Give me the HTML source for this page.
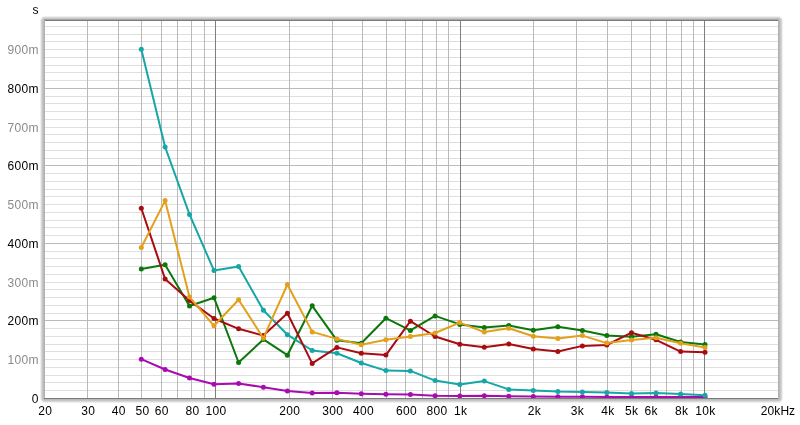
<!DOCTYPE html>
<html><head><meta charset="utf-8"><style>
html,body{margin:0;padding:0;background:#fff;width:800px;height:425px;overflow:hidden}
svg{display:block}
</style></head><body>
<svg width="800" height="425" viewBox="0 0 800 425">
<rect width="800" height="425" fill="#fff"/>
<rect x="40" y="16" width="743" height="387" rx="5" fill="#efefef"/>
<rect x="41" y="17" width="741" height="385" rx="4" fill="#d8d8d8"/>
<rect x="42" y="18" width="739" height="383" rx="3" fill="#c6c6c6"/>
<rect x="43" y="19" width="737" height="381" rx="2" fill="#bababa"/>
<rect x="44" y="20" width="735" height="379" rx="1" fill="#b2b2b2"/>
<g shape-rendering="crispEdges">
<rect x="45" y="21" width="733" height="377" fill="#fff"/>
<rect x="45" y="390" width="733" height="1" fill="#dfdfdf"/>
<rect x="45" y="382" width="733" height="1" fill="#dfdfdf"/>
<rect x="45" y="375" width="733" height="1" fill="#dfdfdf"/>
<rect x="45" y="367" width="733" height="1" fill="#dfdfdf"/>
<rect x="45" y="359" width="733" height="1" fill="#dfdfdf"/>
<rect x="45" y="351" width="733" height="1" fill="#dfdfdf"/>
<rect x="45" y="344" width="733" height="1" fill="#dfdfdf"/>
<rect x="45" y="336" width="733" height="1" fill="#dfdfdf"/>
<rect x="45" y="328" width="733" height="1" fill="#dfdfdf"/>
<rect x="45" y="320" width="733" height="1" fill="#bbbbbb"/>
<rect x="45" y="313" width="733" height="1" fill="#dfdfdf"/>
<rect x="45" y="305" width="733" height="1" fill="#dfdfdf"/>
<rect x="45" y="297" width="733" height="1" fill="#dfdfdf"/>
<rect x="45" y="289" width="733" height="1" fill="#dfdfdf"/>
<rect x="45" y="282" width="733" height="1" fill="#dfdfdf"/>
<rect x="45" y="274" width="733" height="1" fill="#dfdfdf"/>
<rect x="45" y="266" width="733" height="1" fill="#dfdfdf"/>
<rect x="45" y="258" width="733" height="1" fill="#dfdfdf"/>
<rect x="45" y="251" width="733" height="1" fill="#dfdfdf"/>
<rect x="45" y="243" width="733" height="1" fill="#bbbbbb"/>
<rect x="45" y="235" width="733" height="1" fill="#dfdfdf"/>
<rect x="45" y="227" width="733" height="1" fill="#dfdfdf"/>
<rect x="45" y="220" width="733" height="1" fill="#dfdfdf"/>
<rect x="45" y="212" width="733" height="1" fill="#dfdfdf"/>
<rect x="45" y="204" width="733" height="1" fill="#dfdfdf"/>
<rect x="45" y="196" width="733" height="1" fill="#dfdfdf"/>
<rect x="45" y="189" width="733" height="1" fill="#dfdfdf"/>
<rect x="45" y="181" width="733" height="1" fill="#dfdfdf"/>
<rect x="45" y="173" width="733" height="1" fill="#dfdfdf"/>
<rect x="45" y="165" width="733" height="1" fill="#bbbbbb"/>
<rect x="45" y="158" width="733" height="1" fill="#dfdfdf"/>
<rect x="45" y="150" width="733" height="1" fill="#dfdfdf"/>
<rect x="45" y="142" width="733" height="1" fill="#dfdfdf"/>
<rect x="45" y="134" width="733" height="1" fill="#dfdfdf"/>
<rect x="45" y="127" width="733" height="1" fill="#dfdfdf"/>
<rect x="45" y="119" width="733" height="1" fill="#dfdfdf"/>
<rect x="45" y="111" width="733" height="1" fill="#dfdfdf"/>
<rect x="45" y="103" width="733" height="1" fill="#dfdfdf"/>
<rect x="45" y="96" width="733" height="1" fill="#dfdfdf"/>
<rect x="45" y="88" width="733" height="1" fill="#bbbbbb"/>
<rect x="45" y="80" width="733" height="1" fill="#dfdfdf"/>
<rect x="45" y="72" width="733" height="1" fill="#dfdfdf"/>
<rect x="45" y="65" width="733" height="1" fill="#dfdfdf"/>
<rect x="45" y="57" width="733" height="1" fill="#dfdfdf"/>
<rect x="45" y="49" width="733" height="1" fill="#dfdfdf"/>
<rect x="45" y="41" width="733" height="1" fill="#dfdfdf"/>
<rect x="45" y="34" width="733" height="1" fill="#dfdfdf"/>
<rect x="45" y="26" width="733" height="1" fill="#dfdfdf"/>
<rect x="87" y="21" width="1" height="377" fill="#bababa"/>
<rect x="118" y="21" width="1" height="377" fill="#bababa"/>
<rect x="141" y="21" width="1" height="377" fill="#bababa"/>
<rect x="161" y="21" width="1" height="377" fill="#bababa"/>
<rect x="177" y="21" width="1" height="377" fill="#bababa"/>
<rect x="191" y="21" width="1" height="377" fill="#bababa"/>
<rect x="204" y="21" width="1" height="377" fill="#bababa"/>
<rect x="215" y="21" width="1" height="377" fill="#7e7e7e"/>
<rect x="289" y="21" width="1" height="377" fill="#bababa"/>
<rect x="332" y="21" width="1" height="377" fill="#bababa"/>
<rect x="362" y="21" width="1" height="377" fill="#bababa"/>
<rect x="386" y="21" width="1" height="377" fill="#bababa"/>
<rect x="405" y="21" width="1" height="377" fill="#bababa"/>
<rect x="422" y="21" width="1" height="377" fill="#bababa"/>
<rect x="436" y="21" width="1" height="377" fill="#bababa"/>
<rect x="448" y="21" width="1" height="377" fill="#bababa"/>
<rect x="460" y="21" width="1" height="377" fill="#7e7e7e"/>
<rect x="533" y="21" width="1" height="377" fill="#bababa"/>
<rect x="576" y="21" width="1" height="377" fill="#bababa"/>
<rect x="607" y="21" width="1" height="377" fill="#bababa"/>
<rect x="631" y="21" width="1" height="377" fill="#bababa"/>
<rect x="650" y="21" width="1" height="377" fill="#bababa"/>
<rect x="666" y="21" width="1" height="377" fill="#bababa"/>
<rect x="681" y="21" width="1" height="377" fill="#bababa"/>
<rect x="693" y="21" width="1" height="377" fill="#bababa"/>
<rect x="704" y="21" width="1" height="377" fill="#7e7e7e"/>
<rect x="45" y="20" width="733" height="1" fill="#7a7a7a"/>
<rect x="44" y="19" width="735" height="1" fill="#a8a8a8"/>
<rect x="44" y="398" width="734" height="1" fill="#7a7a7a"/>
</g>
<defs><clipPath id="pc"><rect x="45" y="21" width="733" height="377"/></clipPath></defs>
<g clip-path="url(#pc)">
<polyline points="141.3,359.2 165.1,369.5 189.5,378.0 214.0,384.3 238.6,383.6 263.4,387.2 287.4,390.9 312.2,392.9 336.9,392.8 361.3,393.8 385.9,394.3 410.4,394.6 435.1,395.7 459.8,395.9 484.3,395.8 508.8,396.3 533.3,396.5 557.9,396.7 582.4,396.8 606.8,396.9 631.5,396.9 656.0,396.9 680.6,396.9 705.0,397.0" fill="none" stroke="#a80cb0" stroke-width="2" stroke-linejoin="round"/>
<circle cx="141.3" cy="359.2" r="2.5" fill="#a80cb0"/>
<circle cx="165.1" cy="369.5" r="2.5" fill="#a80cb0"/>
<circle cx="189.5" cy="378.0" r="2.5" fill="#a80cb0"/>
<circle cx="214.0" cy="384.3" r="2.5" fill="#a80cb0"/>
<circle cx="238.6" cy="383.6" r="2.5" fill="#a80cb0"/>
<circle cx="263.4" cy="387.2" r="2.5" fill="#a80cb0"/>
<circle cx="287.4" cy="390.9" r="2.5" fill="#a80cb0"/>
<circle cx="312.2" cy="392.9" r="2.5" fill="#a80cb0"/>
<circle cx="336.9" cy="392.8" r="2.5" fill="#a80cb0"/>
<circle cx="361.3" cy="393.8" r="2.5" fill="#a80cb0"/>
<circle cx="385.9" cy="394.3" r="2.5" fill="#a80cb0"/>
<circle cx="410.4" cy="394.6" r="2.5" fill="#a80cb0"/>
<circle cx="435.1" cy="395.7" r="2.5" fill="#a80cb0"/>
<circle cx="459.8" cy="395.9" r="2.5" fill="#a80cb0"/>
<circle cx="484.3" cy="395.8" r="2.5" fill="#a80cb0"/>
<circle cx="508.8" cy="396.3" r="2.5" fill="#a80cb0"/>
<circle cx="533.3" cy="396.5" r="2.5" fill="#a80cb0"/>
<circle cx="557.9" cy="396.7" r="2.5" fill="#a80cb0"/>
<circle cx="582.4" cy="396.8" r="2.5" fill="#a80cb0"/>
<circle cx="606.8" cy="396.9" r="2.5" fill="#a80cb0"/>
<circle cx="631.5" cy="396.9" r="2.5" fill="#a80cb0"/>
<circle cx="656.0" cy="396.9" r="2.5" fill="#a80cb0"/>
<circle cx="680.6" cy="396.9" r="2.5" fill="#a80cb0"/>
<circle cx="705.0" cy="397.0" r="2.5" fill="#a80cb0"/>
<polyline points="141.3,268.9 165.1,264.7 189.5,306.0 214.0,297.7 238.6,362.5 263.4,339.4 287.4,355.2 312.2,305.8 336.9,340.3 361.3,343.2 385.9,318.2 410.4,330.4 435.1,315.9 459.8,324.4 484.3,327.4 508.8,325.6 533.3,330.2 557.9,326.8 582.4,330.4 606.8,335.5 631.5,336.8 656.0,334.3 680.6,342.0 705.0,344.5" fill="none" stroke="#0c780c" stroke-width="2" stroke-linejoin="round"/>
<circle cx="141.3" cy="268.9" r="2.5" fill="#0c780c"/>
<circle cx="165.1" cy="264.7" r="2.5" fill="#0c780c"/>
<circle cx="189.5" cy="306.0" r="2.5" fill="#0c780c"/>
<circle cx="214.0" cy="297.7" r="2.5" fill="#0c780c"/>
<circle cx="238.6" cy="362.5" r="2.5" fill="#0c780c"/>
<circle cx="263.4" cy="339.4" r="2.5" fill="#0c780c"/>
<circle cx="287.4" cy="355.2" r="2.5" fill="#0c780c"/>
<circle cx="312.2" cy="305.8" r="2.5" fill="#0c780c"/>
<circle cx="336.9" cy="340.3" r="2.5" fill="#0c780c"/>
<circle cx="361.3" cy="343.2" r="2.5" fill="#0c780c"/>
<circle cx="385.9" cy="318.2" r="2.5" fill="#0c780c"/>
<circle cx="410.4" cy="330.4" r="2.5" fill="#0c780c"/>
<circle cx="435.1" cy="315.9" r="2.5" fill="#0c780c"/>
<circle cx="459.8" cy="324.4" r="2.5" fill="#0c780c"/>
<circle cx="484.3" cy="327.4" r="2.5" fill="#0c780c"/>
<circle cx="508.8" cy="325.6" r="2.5" fill="#0c780c"/>
<circle cx="533.3" cy="330.2" r="2.5" fill="#0c780c"/>
<circle cx="557.9" cy="326.8" r="2.5" fill="#0c780c"/>
<circle cx="582.4" cy="330.4" r="2.5" fill="#0c780c"/>
<circle cx="606.8" cy="335.5" r="2.5" fill="#0c780c"/>
<circle cx="631.5" cy="336.8" r="2.5" fill="#0c780c"/>
<circle cx="656.0" cy="334.3" r="2.5" fill="#0c780c"/>
<circle cx="680.6" cy="342.0" r="2.5" fill="#0c780c"/>
<circle cx="705.0" cy="344.5" r="2.5" fill="#0c780c"/>
<polyline points="141.3,49.3 165.1,147.0 189.5,214.4 214.0,270.6 238.6,266.5 263.4,310.3 287.4,334.7 312.2,350.5 336.9,353.2 361.3,363.0 385.9,370.6 410.4,370.9 435.1,380.6 459.8,384.4 484.3,381.1 508.8,389.4 533.3,390.5 557.9,391.6 582.4,392.1 606.8,392.5 631.5,393.5 656.0,392.9 680.6,394.1 705.0,395.2" fill="none" stroke="#16a6a6" stroke-width="2" stroke-linejoin="round"/>
<circle cx="141.3" cy="49.3" r="2.5" fill="#16a6a6"/>
<circle cx="165.1" cy="147.0" r="2.5" fill="#16a6a6"/>
<circle cx="189.5" cy="214.4" r="2.5" fill="#16a6a6"/>
<circle cx="214.0" cy="270.6" r="2.5" fill="#16a6a6"/>
<circle cx="238.6" cy="266.5" r="2.5" fill="#16a6a6"/>
<circle cx="263.4" cy="310.3" r="2.5" fill="#16a6a6"/>
<circle cx="287.4" cy="334.7" r="2.5" fill="#16a6a6"/>
<circle cx="312.2" cy="350.5" r="2.5" fill="#16a6a6"/>
<circle cx="336.9" cy="353.2" r="2.5" fill="#16a6a6"/>
<circle cx="361.3" cy="363.0" r="2.5" fill="#16a6a6"/>
<circle cx="385.9" cy="370.6" r="2.5" fill="#16a6a6"/>
<circle cx="410.4" cy="370.9" r="2.5" fill="#16a6a6"/>
<circle cx="435.1" cy="380.6" r="2.5" fill="#16a6a6"/>
<circle cx="459.8" cy="384.4" r="2.5" fill="#16a6a6"/>
<circle cx="484.3" cy="381.1" r="2.5" fill="#16a6a6"/>
<circle cx="508.8" cy="389.4" r="2.5" fill="#16a6a6"/>
<circle cx="533.3" cy="390.5" r="2.5" fill="#16a6a6"/>
<circle cx="557.9" cy="391.6" r="2.5" fill="#16a6a6"/>
<circle cx="582.4" cy="392.1" r="2.5" fill="#16a6a6"/>
<circle cx="606.8" cy="392.5" r="2.5" fill="#16a6a6"/>
<circle cx="631.5" cy="393.5" r="2.5" fill="#16a6a6"/>
<circle cx="656.0" cy="392.9" r="2.5" fill="#16a6a6"/>
<circle cx="680.6" cy="394.1" r="2.5" fill="#16a6a6"/>
<circle cx="705.0" cy="395.2" r="2.5" fill="#16a6a6"/>
<polyline points="141.3,208.2 165.1,279.0 189.5,300.6 214.0,318.5 238.6,328.8 263.4,335.6 287.4,313.3 312.2,363.4 336.9,347.4 361.3,353.2 385.9,355.1 410.4,321.2 435.1,336.5 459.8,344.3 484.3,347.3 508.8,343.9 533.3,349.1 557.9,351.5 582.4,345.9 606.8,345.0 631.5,332.7 656.0,339.8 680.6,351.6 705.0,352.3" fill="none" stroke="#a80c10" stroke-width="2" stroke-linejoin="round"/>
<circle cx="141.3" cy="208.2" r="2.5" fill="#a80c10"/>
<circle cx="165.1" cy="279.0" r="2.5" fill="#a80c10"/>
<circle cx="189.5" cy="300.6" r="2.5" fill="#a80c10"/>
<circle cx="214.0" cy="318.5" r="2.5" fill="#a80c10"/>
<circle cx="238.6" cy="328.8" r="2.5" fill="#a80c10"/>
<circle cx="263.4" cy="335.6" r="2.5" fill="#a80c10"/>
<circle cx="287.4" cy="313.3" r="2.5" fill="#a80c10"/>
<circle cx="312.2" cy="363.4" r="2.5" fill="#a80c10"/>
<circle cx="336.9" cy="347.4" r="2.5" fill="#a80c10"/>
<circle cx="361.3" cy="353.2" r="2.5" fill="#a80c10"/>
<circle cx="385.9" cy="355.1" r="2.5" fill="#a80c10"/>
<circle cx="410.4" cy="321.2" r="2.5" fill="#a80c10"/>
<circle cx="435.1" cy="336.5" r="2.5" fill="#a80c10"/>
<circle cx="459.8" cy="344.3" r="2.5" fill="#a80c10"/>
<circle cx="484.3" cy="347.3" r="2.5" fill="#a80c10"/>
<circle cx="508.8" cy="343.9" r="2.5" fill="#a80c10"/>
<circle cx="533.3" cy="349.1" r="2.5" fill="#a80c10"/>
<circle cx="557.9" cy="351.5" r="2.5" fill="#a80c10"/>
<circle cx="582.4" cy="345.9" r="2.5" fill="#a80c10"/>
<circle cx="606.8" cy="345.0" r="2.5" fill="#a80c10"/>
<circle cx="631.5" cy="332.7" r="2.5" fill="#a80c10"/>
<circle cx="656.0" cy="339.8" r="2.5" fill="#a80c10"/>
<circle cx="680.6" cy="351.6" r="2.5" fill="#a80c10"/>
<circle cx="705.0" cy="352.3" r="2.5" fill="#a80c10"/>
<polyline points="141.3,247.5 165.1,200.6 189.5,297.0 214.0,325.8 238.6,299.7 263.4,338.2 287.4,284.5 312.2,331.9 336.9,338.9 361.3,344.8 385.9,339.7 410.4,336.5 435.1,333.0 459.8,322.6 484.3,332.1 508.8,328.2 533.3,336.2 557.9,338.5 582.4,335.6 606.8,343.1 631.5,340.0 656.0,337.7 680.6,343.3 705.0,347.5" fill="none" stroke="#e2a01c" stroke-width="2" stroke-linejoin="round"/>
<circle cx="141.3" cy="247.5" r="2.5" fill="#e2a01c"/>
<circle cx="165.1" cy="200.6" r="2.5" fill="#e2a01c"/>
<circle cx="189.5" cy="297.0" r="2.5" fill="#e2a01c"/>
<circle cx="214.0" cy="325.8" r="2.5" fill="#e2a01c"/>
<circle cx="238.6" cy="299.7" r="2.5" fill="#e2a01c"/>
<circle cx="263.4" cy="338.2" r="2.5" fill="#e2a01c"/>
<circle cx="287.4" cy="284.5" r="2.5" fill="#e2a01c"/>
<circle cx="312.2" cy="331.9" r="2.5" fill="#e2a01c"/>
<circle cx="336.9" cy="338.9" r="2.5" fill="#e2a01c"/>
<circle cx="361.3" cy="344.8" r="2.5" fill="#e2a01c"/>
<circle cx="385.9" cy="339.7" r="2.5" fill="#e2a01c"/>
<circle cx="410.4" cy="336.5" r="2.5" fill="#e2a01c"/>
<circle cx="435.1" cy="333.0" r="2.5" fill="#e2a01c"/>
<circle cx="459.8" cy="322.6" r="2.5" fill="#e2a01c"/>
<circle cx="484.3" cy="332.1" r="2.5" fill="#e2a01c"/>
<circle cx="508.8" cy="328.2" r="2.5" fill="#e2a01c"/>
<circle cx="533.3" cy="336.2" r="2.5" fill="#e2a01c"/>
<circle cx="557.9" cy="338.5" r="2.5" fill="#e2a01c"/>
<circle cx="582.4" cy="335.6" r="2.5" fill="#e2a01c"/>
<circle cx="606.8" cy="343.1" r="2.5" fill="#e2a01c"/>
<circle cx="631.5" cy="340.0" r="2.5" fill="#e2a01c"/>
<circle cx="656.0" cy="337.7" r="2.5" fill="#e2a01c"/>
<circle cx="680.6" cy="343.3" r="2.5" fill="#e2a01c"/>
<circle cx="705.0" cy="347.5" r="2.5" fill="#e2a01c"/>
</g>
<g font-family="Liberation Sans, Arial, sans-serif" font-size="12">
<text transform="translate(38.83,402.80) scale(1.0,1)" text-anchor="end" letter-spacing="0.326" fill="#000">0</text>
<text transform="translate(38.83,364.05) scale(1.0,1)" text-anchor="end" letter-spacing="0.326" fill="#8a8a8a">100m</text>
<text transform="translate(38.83,325.30) scale(1.0,1)" text-anchor="end" letter-spacing="0.326" fill="#000">200m</text>
<text transform="translate(38.83,286.55) scale(1.0,1)" text-anchor="end" letter-spacing="0.326" fill="#8a8a8a">300m</text>
<text transform="translate(38.83,247.80) scale(1.0,1)" text-anchor="end" letter-spacing="0.326" fill="#000">400m</text>
<text transform="translate(38.83,209.05) scale(1.0,1)" text-anchor="end" letter-spacing="0.326" fill="#8a8a8a">500m</text>
<text transform="translate(38.83,170.30) scale(1.0,1)" text-anchor="end" letter-spacing="0.326" fill="#000">600m</text>
<text transform="translate(38.83,131.55) scale(1.0,1)" text-anchor="end" letter-spacing="0.326" fill="#8a8a8a">700m</text>
<text transform="translate(38.83,92.80) scale(1.0,1)" text-anchor="end" letter-spacing="0.326" fill="#000">800m</text>
<text transform="translate(38.83,54.05) scale(1.0,1)" text-anchor="end" letter-spacing="0.326" fill="#8a8a8a">900m</text>
<text transform="translate(38.83,14.00) scale(1.0,1)" text-anchor="end" letter-spacing="0.326" fill="#000">s</text>
<text transform="translate(45.14,415.00) scale(1.0,1)" text-anchor="middle" letter-spacing="0.326" fill="#000">20</text>
<text transform="translate(88.22,415.00) scale(1.0,1)" text-anchor="middle" letter-spacing="0.326" fill="#000">30</text>
<text transform="translate(118.78,415.00) scale(1.0,1)" text-anchor="middle" letter-spacing="0.326" fill="#000">40</text>
<text transform="translate(142.48,415.00) scale(1.0,1)" text-anchor="middle" letter-spacing="0.326" fill="#000">50</text>
<text transform="translate(161.85,415.00) scale(1.0,1)" text-anchor="middle" letter-spacing="0.326" fill="#000">60</text>
<text transform="translate(192.41,415.00) scale(1.0,1)" text-anchor="middle" letter-spacing="0.326" fill="#000">80</text>
<text transform="translate(216.11,415.00) scale(1.0,1)" text-anchor="middle" letter-spacing="0.326" fill="#000">100</text>
<text transform="translate(289.74,415.00) scale(1.0,1)" text-anchor="middle" letter-spacing="0.326" fill="#000">200</text>
<text transform="translate(332.82,415.00) scale(1.0,1)" text-anchor="middle" letter-spacing="0.326" fill="#000">300</text>
<text transform="translate(363.38,415.00) scale(1.0,1)" text-anchor="middle" letter-spacing="0.326" fill="#000">400</text>
<text transform="translate(406.45,415.00) scale(1.0,1)" text-anchor="middle" letter-spacing="0.326" fill="#000">600</text>
<text transform="translate(437.01,415.00) scale(1.0,1)" text-anchor="middle" letter-spacing="0.326" fill="#000">800</text>
<text transform="translate(460.71,415.00) scale(1.0,1)" text-anchor="middle" letter-spacing="0.326" fill="#000">1k</text>
<text transform="translate(534.34,415.00) scale(1.0,1)" text-anchor="middle" letter-spacing="0.326" fill="#000">2k</text>
<text transform="translate(577.42,415.00) scale(1.0,1)" text-anchor="middle" letter-spacing="0.326" fill="#000">3k</text>
<text transform="translate(607.98,415.00) scale(1.0,1)" text-anchor="middle" letter-spacing="0.326" fill="#000">4k</text>
<text transform="translate(631.68,415.00) scale(1.0,1)" text-anchor="middle" letter-spacing="0.326" fill="#000">5k</text>
<text transform="translate(651.05,415.00) scale(1.0,1)" text-anchor="middle" letter-spacing="0.326" fill="#000">6k</text>
<text transform="translate(681.61,415.00) scale(1.0,1)" text-anchor="middle" letter-spacing="0.326" fill="#000">8k</text>
<text transform="translate(705.31,415.00) scale(1.0,1)" text-anchor="middle" letter-spacing="0.326" fill="#000">10k</text>
<text transform="translate(760.80,415.00) scale(1.0,1)" text-anchor="start" letter-spacing="0.076" fill="#000">20kHz</text>
</g>
</svg>
</body></html>
